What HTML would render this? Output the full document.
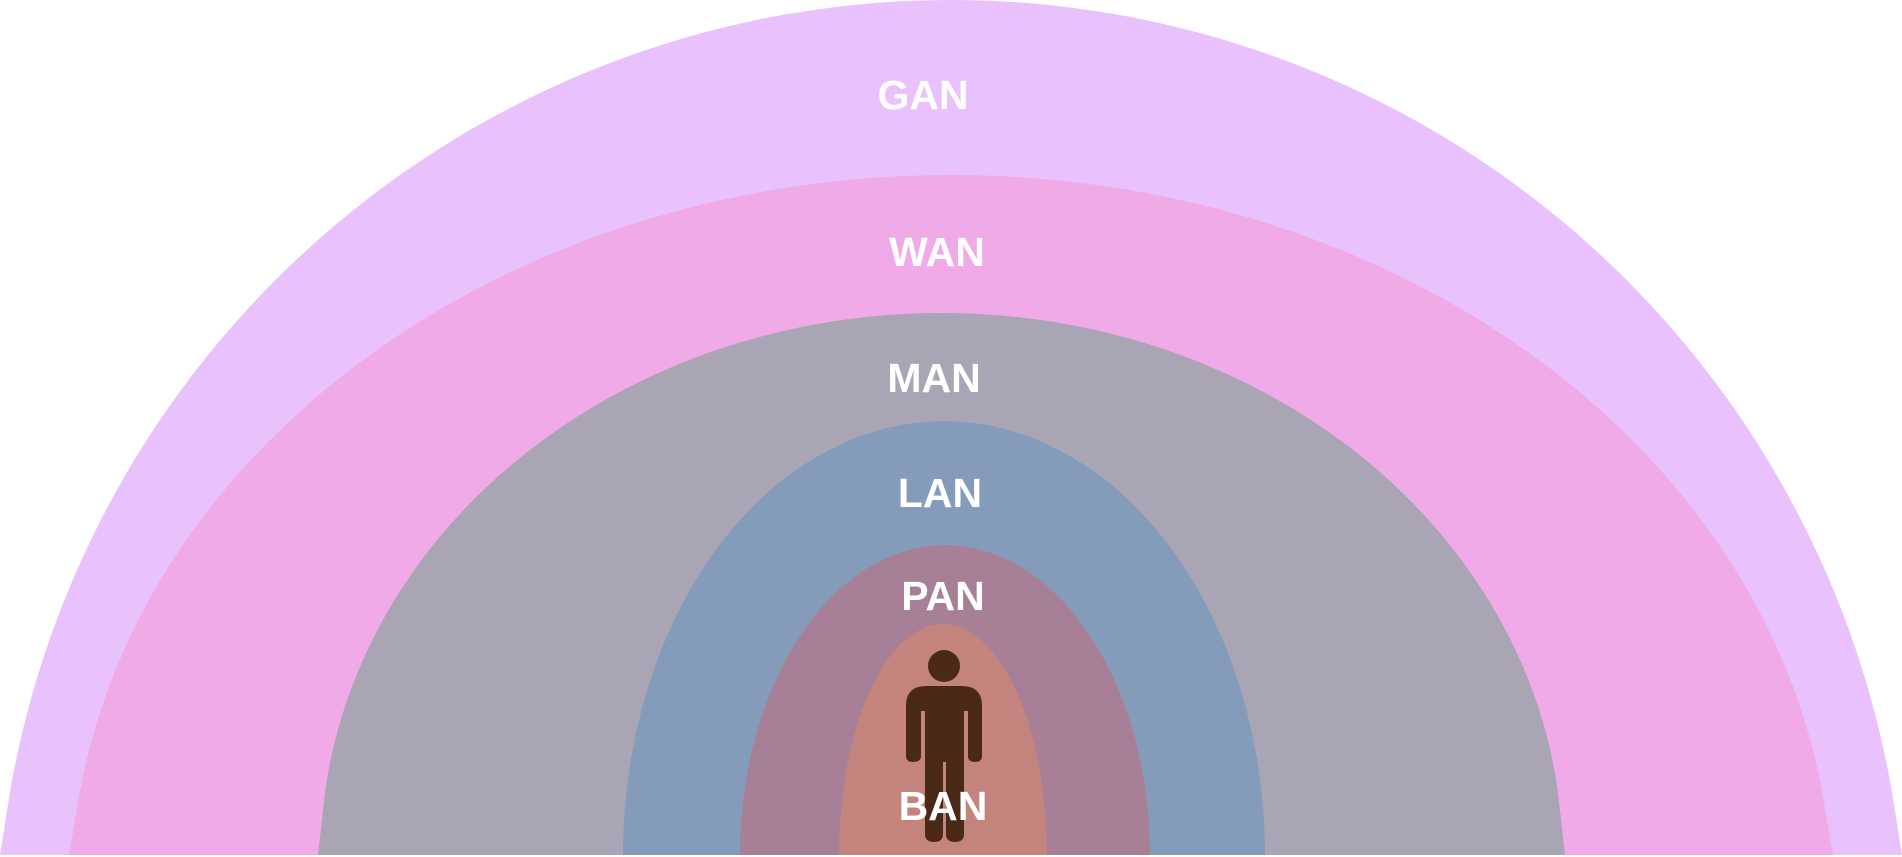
<!DOCTYPE html>
<html><head><meta charset="utf-8"><style>
html,body{margin:0;padding:0;background:#fff;}
svg{display:block;}
text{font-family:"Liberation Sans",sans-serif;font-weight:bold;font-size:41px;fill:#fff;}
</style></head>
<body>
<svg id="chart" width="1902" height="857" viewBox="0 0 1902 857" xmlns="http://www.w3.org/2000/svg">
<g id="layers"></g>
<g id="person" fill="#4a2a16">
<circle cx="944" cy="666" r="16"/>
<path d="M926,686 H962 Q982,686 982,706 V756 Q982,762 975,762 Q968,762 968,756 V711 H964 V834 Q964,842 955,842 Q946,842 946,834 V762 H943 V834 Q943,842 934,842 Q925,842 925,834 V711 H921 V756 Q921,762 913,762 Q906,762 906,756 V706 Q906,686 926,686 Z"/>
</g>
<g id="labels"></g>
</svg>
<script>
const names = ["GAN","WAN","MAN","LAN","PAN","BAN"];
const tops = [0,175,313,421,545,624];
const lefts = [0,69,318,623,740,839];
const rights = [1902,1833,1565,1265,1150,1047];
const colors = ["#e9c1fd","#f0aae8","#a9a5b5","#849cba","#a77f96","#c2847c"];
const labelX = [923,937,934,940,943,943];
const labelY = [109,266,392,507,610,820];
// outer arch geometry (ellipse centre y and x-radius); null = plain half-ellipse
const arcCY = [955,900,858,null,null,null];
const arcRX = [955,881,621,null,null,null];
const bottom = 855, kneeY = 791;
const NS = "http://www.w3.org/2000/svg";
const lg = document.getElementById('layers');
const tg = document.getElementById('labels');
names.forEach((n,i)=>{
  const p = document.createElementNS(NS,'path');
  let d;
  if (arcCY[i] !== null) {
    const ry = arcCY[i] - tops[i], rx = arcRX[i];
    const dy = arcCY[i] - kneeY;
    const hw = rx*Math.sqrt(1 - (dy/ry)*(dy/ry));
    const mx = (lefts[i]+rights[i])/2;
    d = `M${lefts[i]},${bottom} L${mx-hw},${kneeY} A${rx},${ry} 0 0 1 ${mx+hw},${kneeY} L${rights[i]},${bottom} Z`;
  } else {
    const w = (rights[i]-lefts[i])/2, h = bottom - tops[i];
    d = `M${lefts[i]},${bottom} A${w},${h} 0 0 1 ${rights[i]},${bottom} Z`;
  }
  p.setAttribute('d', d);
  p.setAttribute('fill', colors[i]);
  
  
  lg.appendChild(p);
  const t = document.createElementNS(NS,'text');
  t.setAttribute('x', labelX[i]);
  t.setAttribute('y', labelY[i]);
  t.setAttribute('text-anchor','middle');
  t.textContent = n;
  
  
  tg.appendChild(t);
});
</script>
</body></html>
